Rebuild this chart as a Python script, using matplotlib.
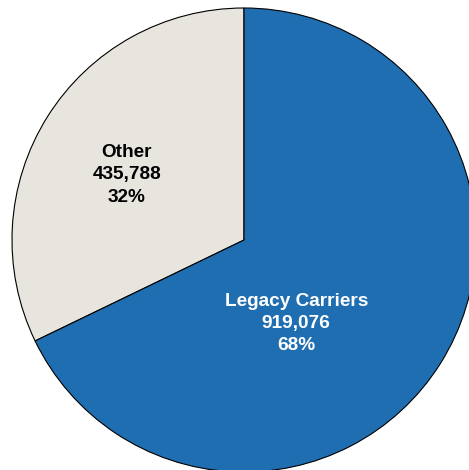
import matplotlib.pyplot as plt

# segment data
labels = ["Other", "Legacy Carriers"]
values = [435788, 919076]
colors = ["#e8e5df", "#1f6eb1"]
text_colors = ["black", "white"]

plt.rcParams['font.family'] = ['Liberation Sans', 'DejaVu Sans']

fig = plt.figure(figsize=(4.69, 4.70), dpi=100)
ax = fig.add_axes([12 / 469, -2 / 470, 464 / 469, 464 / 470])

wedges, _ = ax.pie(values, colors=colors, startangle=90, counterclock=True,
                   wedgeprops=dict(edgecolor='black', linewidth=0.8))
ax.set_xlim(-1, 1)
ax.set_ylim(-1, 1)
ax.set_aspect('equal')

total = sum(values)
# label spots inside each wedge (data units, radius 1)
spots = [(-0.505, 0.282), (0.225, -0.36)]
for lab, v, tc, (x, y) in zip(labels, values, text_colors, spots):
    txt = f"{lab}\n{v:,}\n{round(100 * v / total)}%"
    ax.text(x, y, txt, ha='center', va='center', color=tc,
            fontsize=13.7, fontweight='bold', linespacing=1.42)

fig.savefig("out.png", dpi=100)
